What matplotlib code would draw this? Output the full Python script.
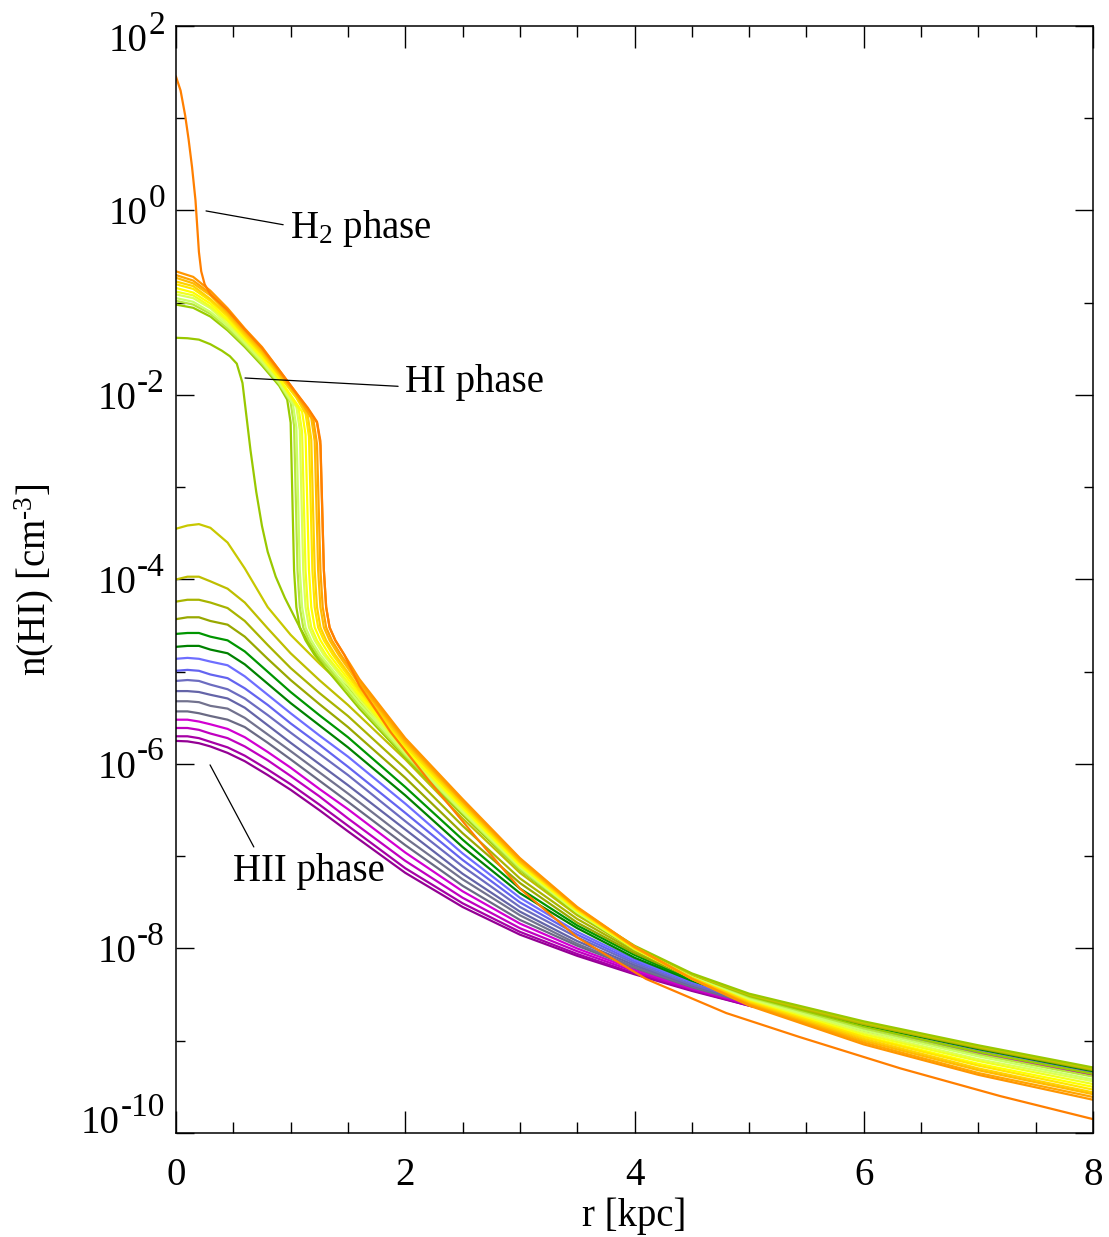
import numpy as np
import matplotlib
matplotlib.use('agg')
import matplotlib.pyplot as plt
from matplotlib.ticker import FixedLocator, NullFormatter

plt.rcParams['font.family'] = ['Liberation Serif', 'DejaVu Serif']
plt.rcParams['mathtext.fontset'] = 'custom'
plt.rcParams['mathtext.rm'] = 'Liberation Serif'
plt.rcParams['mathtext.it'] = 'Liberation Serif:italic'

# ---- HII phase profiles (log10 n(HI)), top curve first ----
r_hii = [0, 0.1, 0.2, 0.3, 0.45, 0.6, 0.8, 1.0, 1.25, 1.5, 2.0, 2.5, 3.0, 3.5, 4.0, 4.5, 5.0, 6.0, 7.0, 8.0]
logn_hii = [
    [-3.45, -3.415, -3.40, -3.44, -3.60, -3.88, -4.30, -4.60, -4.91, -5.20, -5.82, -6.49, -7.115, -7.60, -7.98, -8.28, -8.50, -8.80, -9.06, -9.30],
    [-4.00, -3.97, -3.97, -4.02, -4.10, -4.25, -4.53, -4.80, -5.09, -5.36, -5.95, -6.59, -7.18, -7.64, -8.01, -8.30, -8.51, -8.81, -9.07, -9.31],
    [-4.24, -4.22, -4.22, -4.25, -4.31, -4.45, -4.71, -4.96, -5.23, -5.48, -6.05, -6.67, -7.24, -7.68, -8.03, -8.31, -8.52, -8.82, -9.07, -9.31],
    [-4.43, -4.41, -4.41, -4.45, -4.49, -4.62, -4.86, -5.09, -5.35, -5.60, -6.15, -6.75, -7.29, -7.72, -8.05, -8.32, -8.53, -8.82, -9.08, -9.32],
    [-4.59, -4.58, -4.58, -4.62, -4.66, -4.78, -5.00, -5.22, -5.47, -5.71, -6.25, -6.82, -7.35, -7.75, -8.07, -8.34, -8.54, -8.83, -9.08, -9.32],
    [-4.73, -4.72, -4.72, -4.76, -4.80, -4.92, -5.13, -5.34, -5.58, -5.82, -6.34, -6.90, -7.40, -7.78, -8.10, -8.35, -8.55, -8.83, -9.09, -9.33],
    [-4.86, -4.85, -4.86, -4.89, -4.93, -5.05, -5.25, -5.45, -5.69, -5.92, -6.43, -6.97, -7.45, -7.82, -8.12, -8.36, -8.55, -8.84, -9.10, -9.33],
    [-4.99, -4.98, -4.99, -5.03, -5.07, -5.18, -5.36, -5.56, -5.79, -6.03, -6.53, -7.04, -7.50, -7.85, -8.14, -8.37, -8.56, -8.85, -9.10, -9.34],
    [-5.10, -5.09, -5.10, -5.14, -5.19, -5.29, -5.47, -5.66, -5.89, -6.12, -6.62, -7.11, -7.55, -7.88, -8.16, -8.39, -8.57, -8.85, -9.11, -9.34],
    [-5.21, -5.21, -5.22, -5.25, -5.29, -5.39, -5.58, -5.77, -6.00, -6.23, -6.71, -7.19, -7.60, -7.92, -8.18, -8.40, -8.58, -8.86, -9.11, -9.35],
    [-5.32, -5.32, -5.33, -5.37, -5.40, -5.50, -5.68, -5.86, -6.09, -6.32, -6.80, -7.25, -7.64, -7.95, -8.20, -8.41, -8.59, -8.86, -9.12, -9.35],
    [-5.43, -5.43, -5.45, -5.48, -5.52, -5.60, -5.77, -5.95, -6.18, -6.41, -6.88, -7.32, -7.69, -7.97, -8.21, -8.42, -8.59, -8.87, -9.12, -9.35],
    [-5.52, -5.52, -5.54, -5.57, -5.62, -5.71, -5.87, -6.04, -6.27, -6.49, -6.96, -7.38, -7.73, -8.00, -8.23, -8.43, -8.60, -8.88, -9.13, -9.36],
    [-5.61, -5.61, -5.63, -5.67, -5.72, -5.81, -5.96, -6.13, -6.35, -6.59, -7.05, -7.45, -7.78, -8.03, -8.25, -8.44, -8.61, -8.88, -9.13, -9.36],
    [-5.70, -5.70, -5.72, -5.76, -5.82, -5.91, -6.06, -6.22, -6.44, -6.67, -7.13, -7.51, -7.82, -8.06, -8.27, -8.45, -8.62, -8.89, -9.14, -9.37],
    [-5.75, -5.755, -5.775, -5.81, -5.88, -5.97, -6.12, -6.28, -6.50, -6.73, -7.18, -7.55, -7.85, -8.08, -8.28, -8.46, -8.62, -8.89, -9.14, -9.37],
]
hii_colors = ['#c8c800', '#bebe00', '#a8b400', '#98a800', '#009600', '#008200',
              '#6e6eff', '#6464f0', '#6c6cc0', '#6464a8', '#72728e', '#6a6a84',
              '#d200d2', '#c000c0', '#a600a6', '#940094']

# ---- HI phase profiles, bottom (yellow-green) to top (orange) ----
hi_r = [
    [0, 0.15, 0.3, 0.45, 0.6, 0.75, 0.9, 0.97, 1.00, 1.03, 1.05, 1.08, 1.13, 1.21,
     1.6, 2.0, 2.5, 3.0, 3.5, 4.0, 4.5, 5.0, 6.0, 7.0, 8.0],
    [0, 0.15, 0.3, 0.45, 0.6, 0.75, 0.9, 1.00, 1.03, 1.06, 1.08, 1.11, 1.16, 1.24,
     1.6, 2.0, 2.5, 3.0, 3.5, 4.0, 4.5, 5.0, 6.0, 7.0, 8.0],
    [0, 0.15, 0.3, 0.45, 0.6, 0.75, 0.9, 1.02, 1.05, 1.08, 1.10, 1.13, 1.18, 1.26,
     1.6, 2.0, 2.5, 3.0, 3.5, 4.0, 4.5, 5.0, 6.0, 7.0, 8.0],
    [0, 0.15, 0.3, 0.45, 0.6, 0.75, 0.9, 1.05, 1.08, 1.11, 1.13, 1.16, 1.21, 1.29,
     1.6, 2.0, 2.5, 3.0, 3.5, 4.0, 4.5, 5.0, 6.0, 7.0, 8.0],
    [0, 0.15, 0.3, 0.45, 0.6, 0.75, 0.9, 1.07, 1.10, 1.13, 1.15, 1.18, 1.23, 1.31,
     1.6, 2.0, 2.5, 3.0, 3.5, 4.0, 4.5, 5.0, 6.0, 7.0, 8.0],
    [0, 0.15, 0.3, 0.45, 0.6, 0.75, 0.9, 1.10, 1.13, 1.16, 1.18, 1.21, 1.26, 1.34,
     1.6, 2.0, 2.5, 3.0, 3.5, 4.0, 4.5, 5.0, 6.0, 7.0, 8.0],
    [0, 0.15, 0.3, 0.45, 0.6, 0.75, 0.9, 1.05, 1.13, 1.16, 1.19, 1.21, 1.24, 1.29, 1.37,
     1.6, 2.0, 2.5, 3.0, 3.5, 4.0, 4.5, 5.0, 6.0, 7.0, 8.0],
    [0, 0.15, 0.3, 0.45, 0.6, 0.75, 0.9, 1.05, 1.15, 1.18, 1.21, 1.23, 1.26, 1.31, 1.39,
     1.6, 2.0, 2.5, 3.0, 3.5, 4.0, 4.5, 5.0, 6.0, 7.0, 8.0],
    [0, 0.15, 0.3, 0.45, 0.6, 0.75, 0.9, 1.05, 1.18, 1.21, 1.24, 1.26, 1.29, 1.34, 1.42,
     1.6, 2.0, 2.5, 3.0, 3.5, 4.0, 4.5, 5.0, 6.0, 7.0, 8.0],
    [0, 0.15, 0.3, 0.45, 0.6, 0.75, 0.9, 1.05, 1.20, 1.23, 1.26, 1.28, 1.31, 1.36, 1.44,
     1.6, 2.0, 2.5, 3.0, 3.5, 4.0, 4.5, 5.0, 6.0, 7.0, 8.0],
    [0, 0.15, 0.3, 0.45, 0.6, 0.75, 0.9, 1.05, 1.15, 1.23, 1.26, 1.29, 1.31, 1.34, 1.39, 1.47,
     1.6, 2.0, 2.5, 3.0, 3.5, 4.0, 4.5, 5.0, 6.0, 7.0, 8.0],
]
hi_logn = [
    [-1.02, -1.055, -1.15, -1.30, -1.48, -1.68, -1.90, -2.05, -2.30, -3.90, -4.30, -4.52, -4.66, -4.82,
     -5.40, -5.93, -6.55, -7.15, -7.62, -8.01, -8.31, -8.53, -8.85, -9.12, -9.36],
    [-0.98, -1.02, -1.12, -1.28, -1.46, -1.66, -1.88, -2.08, -2.33, -3.90, -4.30, -4.52, -4.66, -4.82,
     -5.37, -5.91, -6.53, -7.14, -7.61, -8.01, -8.31, -8.54, -8.87, -9.15, -9.39],
    [-0.95, -0.99, -1.10, -1.25, -1.44, -1.64, -1.87, -2.10, -2.35, -3.90, -4.30, -4.52, -4.66, -4.82,
     -5.34, -5.89, -6.52, -7.12, -7.61, -8.00, -8.31, -8.55, -8.89, -9.17, -9.42],
    [-0.91, -0.95, -1.06, -1.23, -1.42, -1.62, -1.85, -2.13, -2.38, -3.90, -4.30, -4.52, -4.66, -4.82,
     -5.30, -5.87, -6.50, -7.11, -7.60, -8.00, -8.32, -8.56, -8.91, -9.20, -9.44],
    [-0.88, -0.92, -1.04, -1.20, -1.40, -1.60, -1.83, -2.15, -2.40, -3.90, -4.30, -4.52, -4.66, -4.82,
     -5.27, -5.85, -6.48, -7.10, -7.59, -8.00, -8.32, -8.57, -8.93, -9.22, -9.47],
    [-0.84, -0.89, -1.01, -1.18, -1.38, -1.58, -1.82, -2.18, -2.43, -3.90, -4.30, -4.52, -4.66, -4.82,
     -5.24, -5.83, -6.47, -7.09, -7.59, -8.00, -8.32, -8.58, -8.95, -9.25, -9.50],
    [-0.80, -0.85, -0.98, -1.15, -1.36, -1.56, -1.79, -2.03, -2.20, -2.45, -3.90, -4.30, -4.52, -4.66, -4.82,
     -5.21, -5.80, -6.45, -7.07, -7.58, -7.99, -8.32, -8.58, -8.96, -9.27, -9.53],
    [-0.77, -0.82, -0.96, -1.13, -1.34, -1.54, -1.78, -2.02, -2.23, -2.48, -3.90, -4.30, -4.52, -4.66, -4.82,
     -5.18, -5.78, -6.43, -7.06, -7.57, -7.99, -8.32, -8.59, -8.98, -9.30, -9.56],
    [-0.73, -0.79, -0.92, -1.11, -1.32, -1.52, -1.76, -2.00, -2.25, -2.50, -3.90, -4.30, -4.52, -4.66, -4.82,
     -5.14, -5.76, -6.41, -7.05, -7.56, -7.99, -8.33, -8.60, -9.00, -9.32, -9.58],
    [-0.70, -0.76, -0.90, -1.09, -1.30, -1.50, -1.75, -1.99, -2.28, -2.53, -3.90, -4.30, -4.52, -4.66, -4.82,
     -5.11, -5.74, -6.40, -7.03, -7.56, -7.98, -8.33, -8.61, -9.02, -9.35, -9.61],
    [-0.66, -0.72, -0.87, -1.06, -1.28, -1.48, -1.73, -1.98, -2.15, -2.30, -2.55, -3.90, -4.30, -4.52, -4.66, -4.82,
     -5.08, -5.72, -6.38, -7.02, -7.55, -7.98, -8.33, -8.62, -9.04, -9.37, -9.64],
]
hi_colors = ['#99cc00', '#b8e63c', '#ccff66', '#ddff55', '#f0ff20', '#ffff00',
             '#ffe600', '#ffd200', '#ffbb00', '#ffa500', '#ff9600']

# ---- curve caught between HI and HII (drop at ~0.6 kpc) ----
r_mid = [0, 0.1, 0.2, 0.3, 0.4, 0.47, 0.53, 0.58, 0.65, 0.70, 0.75, 0.80, 0.87, 0.95, 1.08,
         1.2, 1.4, 1.7, 2.0, 2.5, 3.0, 3.5, 4.0, 4.5, 5.0, 6.0, 7.0, 8.0]
logn_mid = [-1.38, -1.385, -1.40, -1.45, -1.52, -1.58, -1.66, -1.87, -2.60, -3.05, -3.42, -3.70,
            -3.97, -4.20, -4.52, -4.78, -5.05, -5.42, -5.80, -6.46, -7.08, -7.58, -7.97, -8.27,
            -8.49, -8.79, -9.05, -9.29]
mid_color = '#99c800'

# ---- H2 phase profile ----
r_h2 = [0, 0.04, 0.08, 0.11, 0.14, 0.17, 0.20, 0.22, 0.25, 0.30, 0.45, 0.6, 0.75, 0.9, 1.05,
        1.15, 1.23, 1.26, 1.29, 1.31, 1.34, 1.39, 1.47, 1.6, 1.87, 2.2, 2.6, 3.0, 3.5, 4.1,
        4.8, 5.44, 6.32, 7.19, 8.0]
logn_h2 = [1.45, 1.30, 1.03, 0.77, 0.47, 0.11, -0.45, -0.66, -0.80, -0.91, -1.08, -1.29, -1.49,
           -1.73, -1.98, -2.14, -2.29, -2.50, -3.90, -4.30, -4.52, -4.66, -4.82, -5.15, -5.65,
           -6.17, -6.77, -7.35, -7.88, -8.33, -8.70, -8.96, -9.30, -9.60, -9.85]
h2_color = '#ff7f00'

x_major = [0, 2, 4, 6, 8]
x_minor = [0.5, 1, 1.5, 2.5, 3, 3.5, 4.5, 5, 5.5, 6.5, 7, 7.5]
y_exps = [2, 0, -2, -4, -6, -8, -10]
y_minor_exps = [1, -1, -3, -5, -7, -9]

fig = plt.figure(figsize=(11.09, 12.37), dpi=100)
ax = fig.add_axes([0.1587, 0.0841, 0.8269, 0.8949])

lw = 1.6
for logn, c in zip(logn_hii[::-1], hii_colors[::-1]):
    ax.plot(r_hii, 10.0 ** np.array(logn), color=c, lw=lw)
ax.plot(r_mid, 10.0 ** np.array(logn_mid), color=mid_color, lw=lw)
for rr, logn, c in zip(hi_r, hi_logn, hi_colors):
    ax.plot(rr, 10.0 ** np.array(logn), color=c, lw=lw)
ax.plot(r_h2, 10.0 ** np.array(logn_h2), color=h2_color, lw=lw)

ax.set_yscale('log')
ax.set_xlim(0, 8)
ax.set_ylim(1e-10, 1e2)

ax.xaxis.set_major_locator(FixedLocator(x_major))
ax.xaxis.set_minor_locator(FixedLocator(x_minor))
ax.yaxis.set_major_locator(FixedLocator([10.0 ** e for e in y_exps]))
ax.yaxis.set_minor_locator(FixedLocator([10.0 ** e for e in y_minor_exps]))
ax.yaxis.set_major_formatter(NullFormatter())
ax.yaxis.set_minor_formatter(NullFormatter())
ax.set_xticklabels([str(v) for v in x_major])

ax.tick_params(axis='both', which='both', direction='in', top=True, right=True, width=1)
ax.tick_params(axis='x', which='major', length=16, labelsize=28, pad=17)
ax.tick_params(axis='x', which='minor', length=8)
ax.tick_params(axis='y', which='major', length=13)
ax.tick_params(axis='y', which='minor', length=6.5)
for sp in ax.spines.values():
    sp.set_linewidth(1.1)

# IDL style y labels: "10" with a raised exponent
for e in y_exps:
    dy = 0
    if e == y_exps[0]:
        dy = -8
    elif e == y_exps[-1]:
        dy = 10
    ex = ax.annotate(str(e), xy=(0, 10.0 ** e), xycoords=('axes fraction', 'data'),
                     xytext=(-8, 2.5 + dy), textcoords='offset points',
                     ha='right', va='baseline', fontsize=24)
    ax.annotate('10', xy=(0, 0), xycoords=ex, xytext=(-0.5, -7.5), textcoords='offset points',
                ha='right', va='baseline', fontsize=28)

ax.set_xlabel('r [kpc]', fontsize=28)
ax.xaxis.set_label_coords(0.5, -0.058)
ax.set_ylabel('n(HI) [cm$^{\\text{-3}}$]', fontsize=28)
ax.yaxis.set_label_coords(-0.131, 0.5)

arrow = dict(arrowstyle='-', color='black', lw=0.9, shrinkA=3, shrinkB=0)
ax.annotate('H$_{\\mathrm{2}}$ phase', xy=(0.262, 10 ** -0.005), xytext=(0.995, 10 ** -0.19),
            ha='left', va='center', fontsize=28,
            arrowprops=dict(arrow, relpos=(0, 0.55)))
ax.annotate('HI phase', xy=(0.602, 10 ** -1.816), xytext=(1.998, 10 ** -1.87),
            ha='left', va='center', fontsize=28,
            arrowprops=dict(arrow, relpos=(0, 0.4)))
ax.annotate('HII phase', xy=(0.297, 10 ** -6.01), xytext=(0.497, 10 ** -7.17),
            ha='left', va='center', fontsize=28,
            arrowprops=dict(arrow, relpos=(0.16, 1.0)))

fig.savefig('out.png', dpi=100)
